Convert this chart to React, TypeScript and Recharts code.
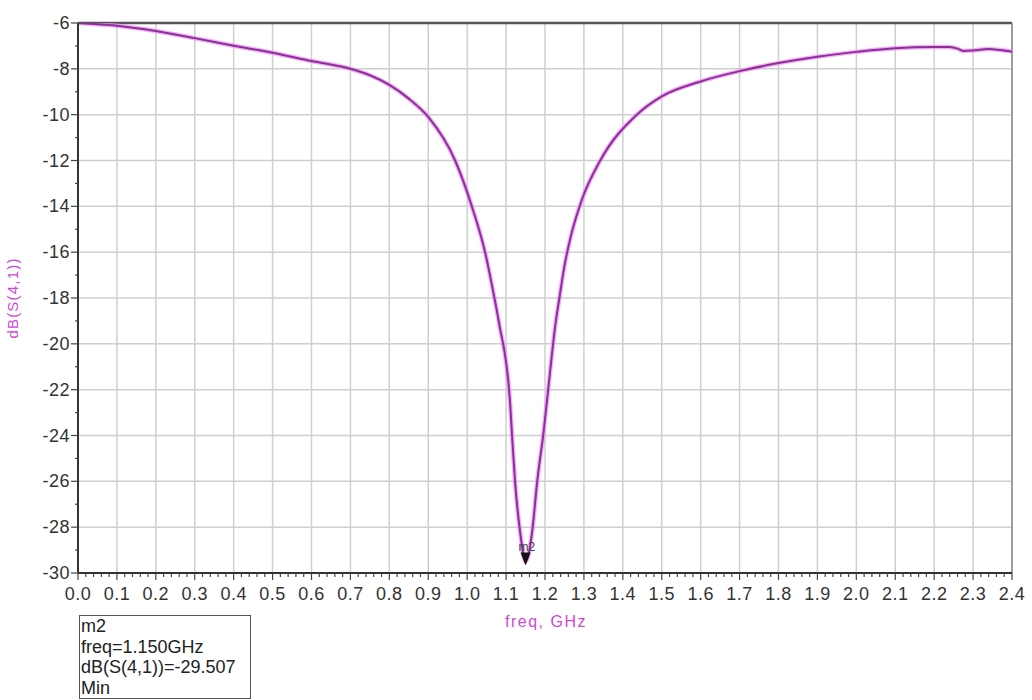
import { ComposedChart, Line, Scatter, XAxis, YAxis, CartesianGrid, ReferenceLine } from 'recharts'

const freq = [0, 0.1, 0.2, 0.3, 0.4, 0.5, 0.6, 0.7, 0.75, 0.8, 0.85, 0.9, 0.969, 1.012, 1.046, 1.07, 1.082, 1.11, 1.115, 1.123, 1.136, 1.15, 1.167, 1.18, 1.196, 1.205, 1.228, 1.237, 1.25, 1.265, 1.295, 1.342, 1.436, 1.5, 1.6, 1.7, 1.8, 1.9, 2.0, 2.1, 2.2, 2.24, 2.26, 2.275, 2.3, 2.34, 2.37, 2.4]
const s41 = [-6.0, -6.12, -6.35, -6.66, -6.99, -7.3, -7.66, -8.0, -8.28, -8.7, -9.3, -10.1, -12.0, -14.0, -16.0, -18.0, -19.1, -22.5, -23.9, -26.0, -28.2, -29.5, -28.2, -26.0, -23.9, -22.5, -19.0, -18.0, -16.6, -15.4, -13.7, -12.0, -10.0, -9.2, -8.55, -8.1, -7.75, -7.47, -7.26, -7.1, -7.05, -7.05, -7.12, -7.22, -7.2, -7.13, -7.18, -7.25]

const xMajor = [0, 0.1, 0.2, 0.3, 0.4, 0.5, 0.6, 0.7, 0.8, 0.9, 1.0, 1.1, 1.2, 1.3, 1.4, 1.5, 1.6, 1.7, 1.8, 1.9, 2.0, 2.1, 2.2, 2.3, 2.4]
const yMajor = [-30, -28, -26, -24, -22, -20, -18, -16, -14, -12, -10, -8, -6]

// minor ticks: 5 per 0.1 GHz on x, 1 per dB on y
const xTicks = Array.from({ length: 121 }, (_, i) => Math.round(i * 2) / 100)
const yTicks = Array.from({ length: 25 }, (_, i) => -30 + i)

const marker = { name: 'm2', freq: 1.15, value: -29.5, label: 'dB(S(4,1))=-29.507' }

const data = freq.map((f, i) => ({ f, db: s41[i] }))

const FONT = '"Liberation Sans", Arial, sans-serif'

const XTick = (props: any) => {
  const { x, y, payload } = props
  const v = payload.value
  const major = Math.round(v * 100) % 10 === 0
  return (
    <g>
      <line x1={x} x2={x} y1={y} y2={y + (major ? 7 : 4)} stroke="#444" strokeWidth={1.2} />
      {major && (
        <text x={x} y={y + 27} textAnchor="middle" fontSize={18} fill="#333" fontFamily={FONT} letterSpacing={0.5}>
          {v.toFixed(1)}
        </text>
      )}
    </g>
  )
}

const YTick = (props: any) => {
  const { x, y, payload } = props
  const v = payload.value
  const major = v % 2 === 0
  return (
    <g>
      <line x1={x - (major ? 7 : 3)} x2={x} y1={y} y2={y} stroke="#444" strokeWidth={1.2} />
      {major && (
        <text x={x - 8} y={y + 6} textAnchor="end" fontSize={18} fill="#333" fontFamily={FONT} letterSpacing={0.5}>
          {v}
        </text>
      )}
    </g>
  )
}

const MarkerShape = (props: any) => {
  const { cx, cy } = props
  return (
    <g>
      <path d={`M${cx - 5},${cy - 9} L${cx + 5},${cy - 9} L${cx},${cy + 4} Z`} fill="#111" />
      <text x={cx - 7} y={cy - 11} fontSize={12} fill="#444" fontFamily={FONT}>{marker.name}</text>
    </g>
  )
}

export default function App() {
  return (
    <div style={{ position: 'absolute', left: 0, top: 0, width: 1032, height: 700, background: '#fff', fontFamily: FONT }}>
      <ComposedChart width={1032} height={700} data={data} margin={{ top: 23, right: 20, left: 0, bottom: 97 }}>
        <CartesianGrid stroke="#cfcfcf" strokeWidth={1.5} verticalValues={xMajor} horizontalValues={yMajor} />
        <XAxis
          dataKey="f"
          type="number"
          domain={[0, 2.4]}
          ticks={xTicks}
          interval={0}
          tick={<XTick />}
          tickLine={false}
          tickSize={0}
          tickMargin={0}
          height={30}
          stroke="#333"
          strokeWidth={2}
          allowDataOverflow
        />
        <YAxis
          type="number"
          domain={[-30, -6]}
          ticks={yTicks}
          interval={0}
          tick={<YTick />}
          tickLine={false}
          tickSize={0}
          tickMargin={0}
          width={78}
          stroke="#333"
          strokeWidth={2}
          allowDataOverflow
        />
        <ReferenceLine y={-6} stroke="#555" strokeWidth={2.5} />
        <ReferenceLine x={2.4} stroke="#888" strokeWidth={1.5} />
        <Line type="monotone" dataKey="db" stroke="#ec8cf5" strokeWidth={4.5} strokeOpacity={0.7} dot={false} isAnimationActive={false} />
        <Line type="monotone" dataKey="db" stroke="#8c2f98" strokeWidth={2} dot={false} isAnimationActive={false} />
        <Scatter data={[{ f: marker.freq, db: marker.value }]} dataKey="db" shape={<MarkerShape />} isAnimationActive={false} />
      </ComposedChart>
      <div style={{ position: 'absolute', left: 12, top: 298, transform: 'translate(-50%, -50%) rotate(-90deg)', color: '#d046d8', fontSize: 15, letterSpacing: 1.2, whiteSpace: 'nowrap' }}>
        dB(S(4,1))
      </div>
      <div style={{ position: 'absolute', left: 546, top: 622, transform: 'translate(-50%, -50%)', color: '#d046d8', fontSize: 16, letterSpacing: 1.5, whiteSpace: 'nowrap' }}>
        freq, GHz
      </div>
      <div style={{ position: 'absolute', left: 79, top: 615, width: 172, height: 84, border: '1px solid #555', color: '#222', fontSize: 18, lineHeight: '20.5px', paddingLeft: 1, boxSizing: 'border-box', whiteSpace: 'nowrap' }}>
        <div>{marker.name}</div>
        <div>freq={marker.freq.toFixed(3)}GHz</div>
        <div>{marker.label}</div>
        <div>Min</div>
      </div>
    </div>
  )
}
